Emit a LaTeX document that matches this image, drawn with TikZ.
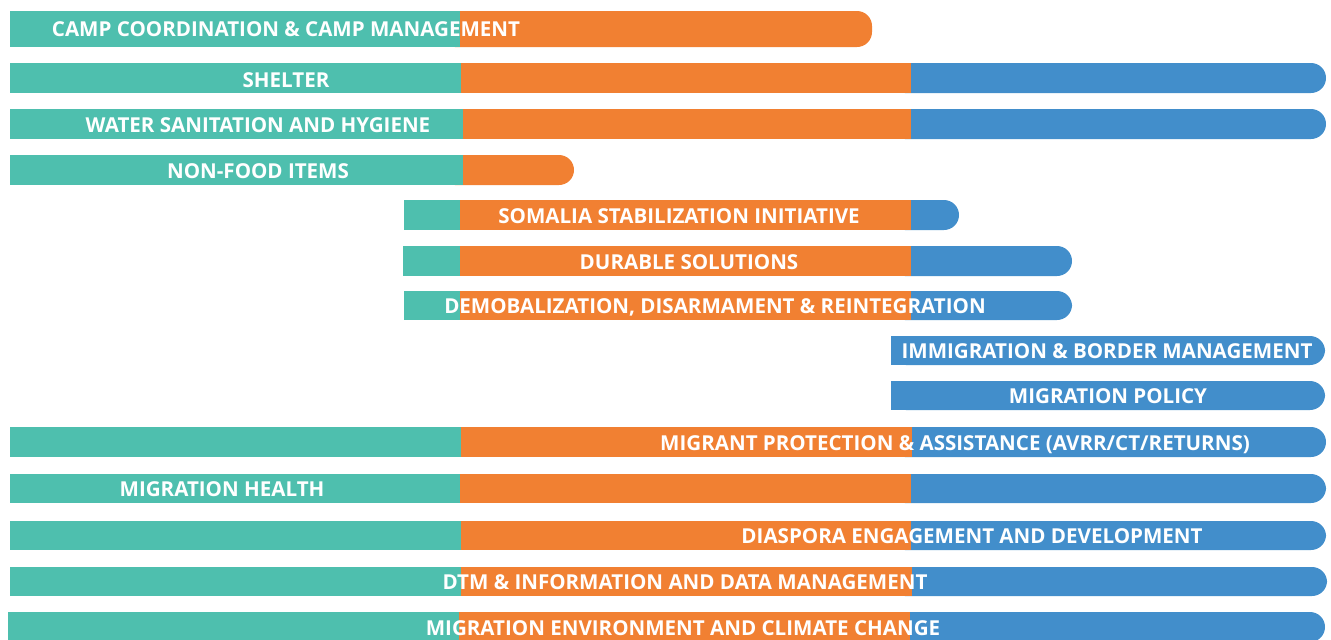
\documentclass[tikz,border=0pt]{standalone}
\usepackage{fontspec}
\setmainfont{Open Sans}
\definecolor{tealbar}{RGB}{78,191,174}
\definecolor{orangebar}{RGB}{241,128,50}
\definecolor{bluebar}{RGB}{66,142,203}

\begin{document}
\begin{tikzpicture}[x=0.02cm,y=-0.02cm]
\tikzset{lbl/.style={text=white,inner sep=0pt,anchor=base,font=\bfseries\fontsize{11.7}{13}\selectfont},
  endcap/.style={rounded corners=0.3cm}}
\useasboundingbox (0,0) rectangle (1331,639);
%cccm
\fill [orangebar,endcap] (440,11) rectangle (872,47);
\fill [tealbar] (10,11) rectangle (460,47);
\node [lbl] (cccm) at (286,36) {CAMP COORDINATION \& CAMP MANAGEMENT};
%shelter
\fill [bluebar,endcap] (890,63) rectangle (1326,93);
\fill [orangebar] (461,63) rectangle (911,93);
\fill [tealbar] (10,63) rectangle (461,93);
\node [lbl] (shelter) at (286,87) {SHELTER};
%wash
\fill [bluebar,endcap] (890,109) rectangle (1326,139);
\fill [orangebar] (463,109) rectangle (911,139);
\fill [tealbar] (10,109) rectangle (463,139);
\node [lbl] (wash) at (258,132) {WATER SANITATION AND HYGIENE};
%nfi
\fill [orangebar,endcap] (440,155) rectangle (574,185);
\fill [tealbar] (10,155) rectangle (463,185);
\node [lbl] (nfi) at (258,178) {NON-FOOD ITEMS};
%ssi
\fill [bluebar,endcap] (890,200) rectangle (959,230);
\fill [orangebar] (460,200) rectangle (911,230);
\fill [tealbar] (404,200) rectangle (460,230);
\node [lbl] (ssi) at (679,223) {SOMALIA STABILIZATION INITIATIVE};
%durable
\fill [bluebar,endcap] (890,246) rectangle (1072,276);
\fill [orangebar] (460,246) rectangle (911,276);
\fill [tealbar] (403,246) rectangle (460,276);
\node [lbl] (durable) at (689,269) {DURABLE SOLUTIONS};
%ddr
\fill [bluebar,endcap] (890,291) rectangle (1072,320);
\fill [orangebar] (460,291) rectangle (911,320);
\fill [tealbar] (404,291) rectangle (460,320);
\node [lbl] (ddr) at (715,313) {DEMOBALIZATION, DISARMAMENT \& REINTEGRATION};
%ibm
\fill [bluebar,endcap] (891,336) rectangle (1325,365);
\fill [bluebar] (891,336) rectangle (1000,365);
\node [lbl] (ibm) at (1107,358) {IMMIGRATION \& BORDER MANAGEMENT};
%policy
\fill [bluebar,endcap] (891,381) rectangle (1325,410);
\fill [bluebar] (891,381) rectangle (1000,410);
\node [lbl] (policy) at (1108,403) {MIGRATION POLICY};
%mpa
\fill [bluebar,endcap] (890,427) rectangle (1326,457);
\fill [orangebar] (461,427) rectangle (912,457);
\fill [tealbar] (10,427) rectangle (461,457);
\node [lbl] (mpa) at (955,450) {MIGRANT PROTECTION \& ASSISTANCE (AVRR/CT/RETURNS)};
%health
\fill [bluebar,endcap] (890,474) rectangle (1326,503);
\fill [orangebar] (460,474) rectangle (911,503);
\fill [tealbar] (10,474) rectangle (460,503);
\node [lbl] (health) at (222,496) {MIGRATION HEALTH};
%diaspora
\fill [bluebar,endcap] (890,521) rectangle (1326,550);
\fill [orangebar] (461,521) rectangle (911,550);
\fill [tealbar] (10,521) rectangle (461,550);
\node [lbl] (diaspora) at (972,543) {DIASPORA ENGAGEMENT AND DEVELOPMENT};
%dtm
\fill [bluebar,endcap] (890,567) rectangle (1327,596);
\fill [orangebar] (461,567) rectangle (912,596);
\fill [tealbar] (10,567) rectangle (461,596);
\node [lbl] (dtm) at (685,589) {DTM \& INFORMATION AND DATA MANAGEMENT};
%mecc
\fill [bluebar,endcap] (890,612) rectangle (1325,642);
\fill [orangebar] (459,612) rectangle (910,642);
\fill [tealbar] (8,612) rectangle (459,642);
\node [lbl] (mecc) at (683,635) {MIGRATION ENVIRONMENT AND CLIMATE CHANGE};
\end{tikzpicture}
\end{document}
